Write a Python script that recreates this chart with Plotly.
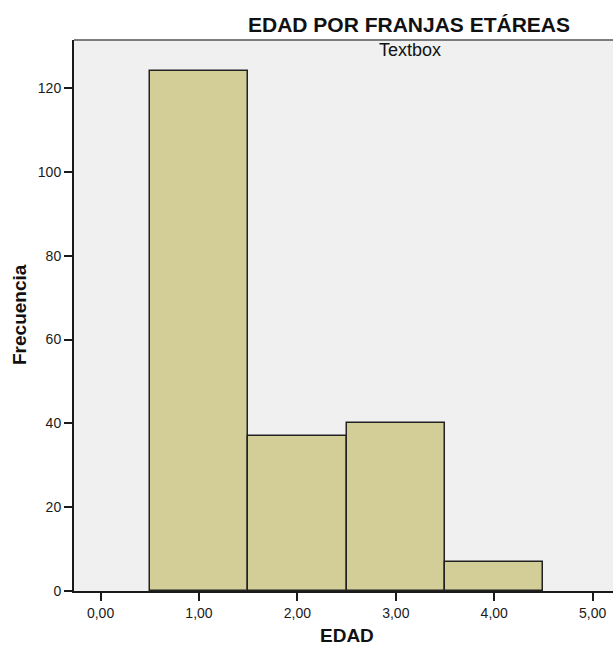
import plotly.graph_objects as go

categories = [1, 2, 3, 4]
frequencies = [124, 37, 40, 7]
x_tickvals = [0, 1, 2, 3, 4, 5]
x_ticktext = ["0,00", "1,00", "2,00", "3,00", "4,00", "5,00"]
y_tickvals = [0, 20, 40, 60, 80, 100, 120]

font_family = "Liberation Sans, Arial, sans-serif"

W, H = 613, 648
L, R, T, B = 74, 0, 40, 57
pw, ph = W - L - R, H - T - B


def px(x):
    return (x - L) / pw


def py(y):
    return (H - B - y) / ph


fig = go.Figure()
fig.add_trace(go.Bar(
    x=categories, y=frequencies, width=1,
    marker=dict(color="#D3CE97", line=dict(color="#222222", width=1.5)),
    showlegend=False,
))

fig.update_layout(
    width=W, height=H,
    margin=dict(l=L, r=R, t=T, b=B),
    paper_bgcolor="white", plot_bgcolor="#F0F0F0",
    font=dict(family=font_family, size=14, color="#1a1a1a"),
    bargap=0,
    xaxis=dict(
        range=[-0.27, 5.207], tickvals=x_tickvals, ticktext=x_ticktext,
        showgrid=False, zeroline=False, showline=True, linecolor="#1a1a1a", linewidth=2,
        ticks="outside", ticklen=8, tickwidth=2, tickcolor="#1a1a1a",
        tickfont=dict(size=14),
    ),
    yaxis=dict(
        range=[0, 131.5], tickvals=y_tickvals,
        showgrid=False, zeroline=False, showline=True, linecolor="#1a1a1a", linewidth=2,
        ticks="outside", ticklen=8, tickwidth=2, tickcolor="#1a1a1a",
        tickfont=dict(size=14),
    ),
    shapes=[dict(type="line", xref="paper", yref="paper", x0=0, x1=1, y0=1, y1=1,
                 line=dict(color="#555555", width=1.5))],
    annotations=[
        dict(text="<b>EDAD POR FRANJAS ETÁREAS</b>", x=px(408.5), y=py(25),
             xref="paper", yref="paper", xanchor="center", yanchor="middle",
             showarrow=False, font=dict(size=21, color="#111111")),
        dict(text="Textbox", x=px(410), y=py(50), xref="paper", yref="paper",
             xanchor="center", yanchor="middle", showarrow=False,
             font=dict(size=18, color="#111111")),
        dict(text="<b>Frecuencia</b>", x=px(19), y=py(315), xref="paper", yref="paper",
             xanchor="center", yanchor="middle", showarrow=False, textangle=-90,
             font=dict(size=19, color="#111111")),
        dict(text="<b>EDAD</b>", x=px(347), y=py(635), xref="paper", yref="paper",
             xanchor="center", yanchor="middle", showarrow=False,
             font=dict(size=19, color="#111111")),
    ],
)

fig.write_html("out.html", config={"displayModeBar": False},
               post_script="document.body.style.margin='0px';document.body.style.overflow='hidden';")
